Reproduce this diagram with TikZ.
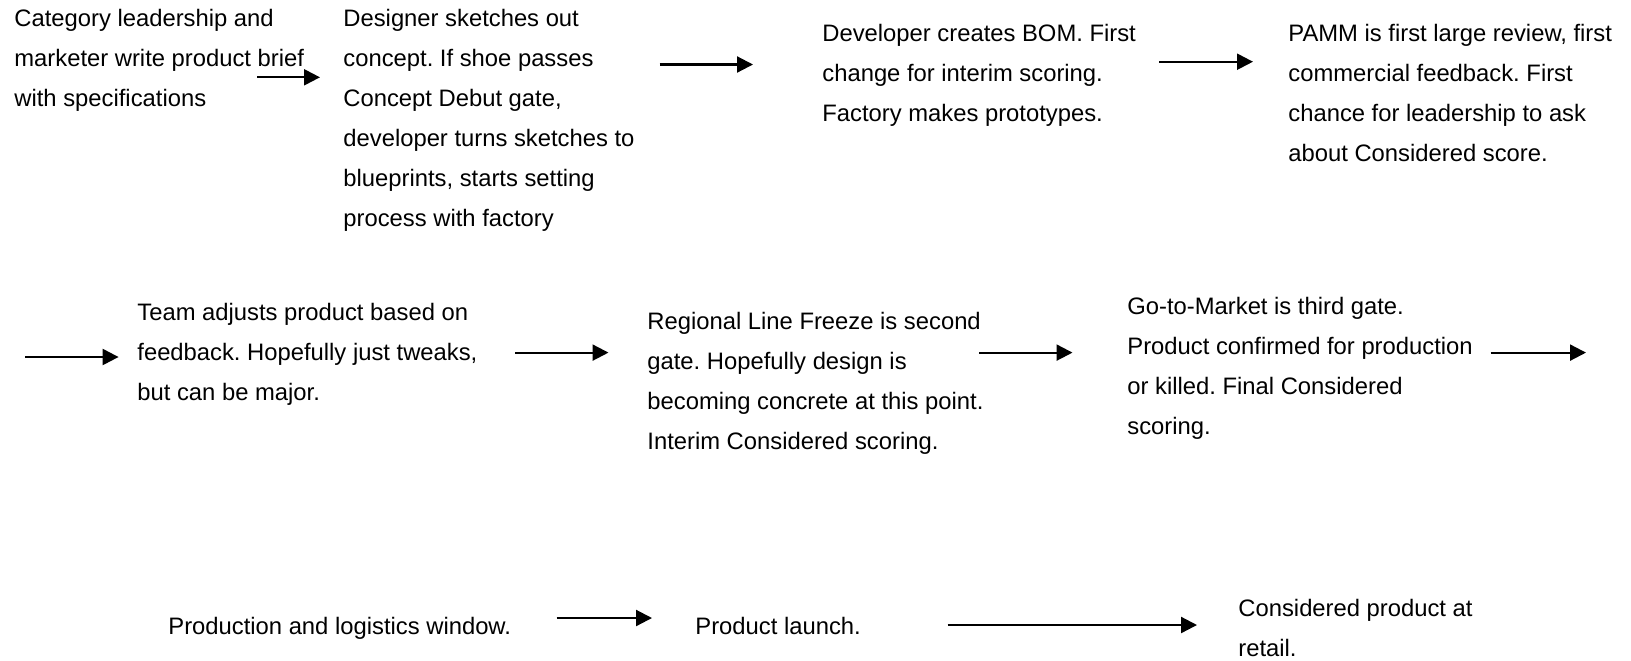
\documentclass[tikz,border=0pt]{standalone}
\usepackage{fontspec}
\setmainfont{Liberation Sans}
\usetikzlibrary{arrows.meta}
\frenchspacing
\begin{document}
\begin{tikzpicture}[x=0.5pt,y=-0.5pt,
  txt/.style={anchor=north west,inner sep=0pt,align=left,font=\fontsize{11.9}{20}\selectfont\frenchspacing},
  flow/.style={line width=1.1pt,-{Triangle[length=8pt,width=8pt]}}]
\useasboundingbox (0,0) rectangle (1631,660);
\newcommand{\fl}{\rule{0pt}{10pt}}
\node[txt] (b1) at (14,6) {\fl Category leadership and\\marketer write product brief\\with specifications};
\node[txt] (b2) at (343,6) {\fl Designer sketches out\\concept. If shoe passes\\Concept Debut gate,\\developer turns sketches to\\blueprints, starts setting\\process with factory};
\node[txt] (b3) at (822,21) {\fl Developer creates BOM. First\\change for interim scoring.\\Factory makes prototypes.};
\node[txt] (b4) at (1288,21) {\fl PAMM is first large review, first\\commercial feedback. First\\chance for leadership to ask\\about Considered score.};
\node[txt] (b5) at (137,300) {\fl Team adjusts product based on\\feedback. Hopefully just tweaks,\\but can be major.};
\node[txt] (b6) at (647,309.5) {\fl Regional Line Freeze is second\\gate. Hopefully design is\\becoming concrete at this point.\\Interim Considered scoring.};
\node[txt] (b7) at (1127,294) {\fl Go-to-Market is third gate.\\Product confirmed for production\\or killed. Final Considered\\scoring.};
\node[txt] (b8) at (168,614) {\fl Production and logistics window.};
\node[txt] (b9) at (695,614) {\fl Product launch.};
\node[txt] (b10) at (1238,596.5) {\fl Considered product at\\retail.};
\coordinate (a1s) at (257,77.3);   \coordinate (a1e) at (320,77.3);
\coordinate (a2s) at (659.5,64.5); \coordinate (a2e) at (753,64.5);
\coordinate (a3s) at (1159,61.7);  \coordinate (a3e) at (1253,61.7);
\coordinate (a4s) at (25,357);     \coordinate (a4e) at (118.6,357);
\coordinate (a5s) at (515,352.6);  \coordinate (a5e) at (608.5,352.6);
\coordinate (a6s) at (979,352.6);  \coordinate (a6e) at (1072.5,352.6);
\coordinate (a7s) at (1490.6,352.6); \coordinate (a7e) at (1586,352.6);
\coordinate (a8s) at (556.5,618);  \coordinate (a8e) at (652,618);
\coordinate (a9s) at (947.6,625);  \coordinate (a9e) at (1197,625);
\foreach \i in {1,...,9} {\draw[flow] (a\i s) -- (a\i e);}
\end{tikzpicture}
\end{document}
